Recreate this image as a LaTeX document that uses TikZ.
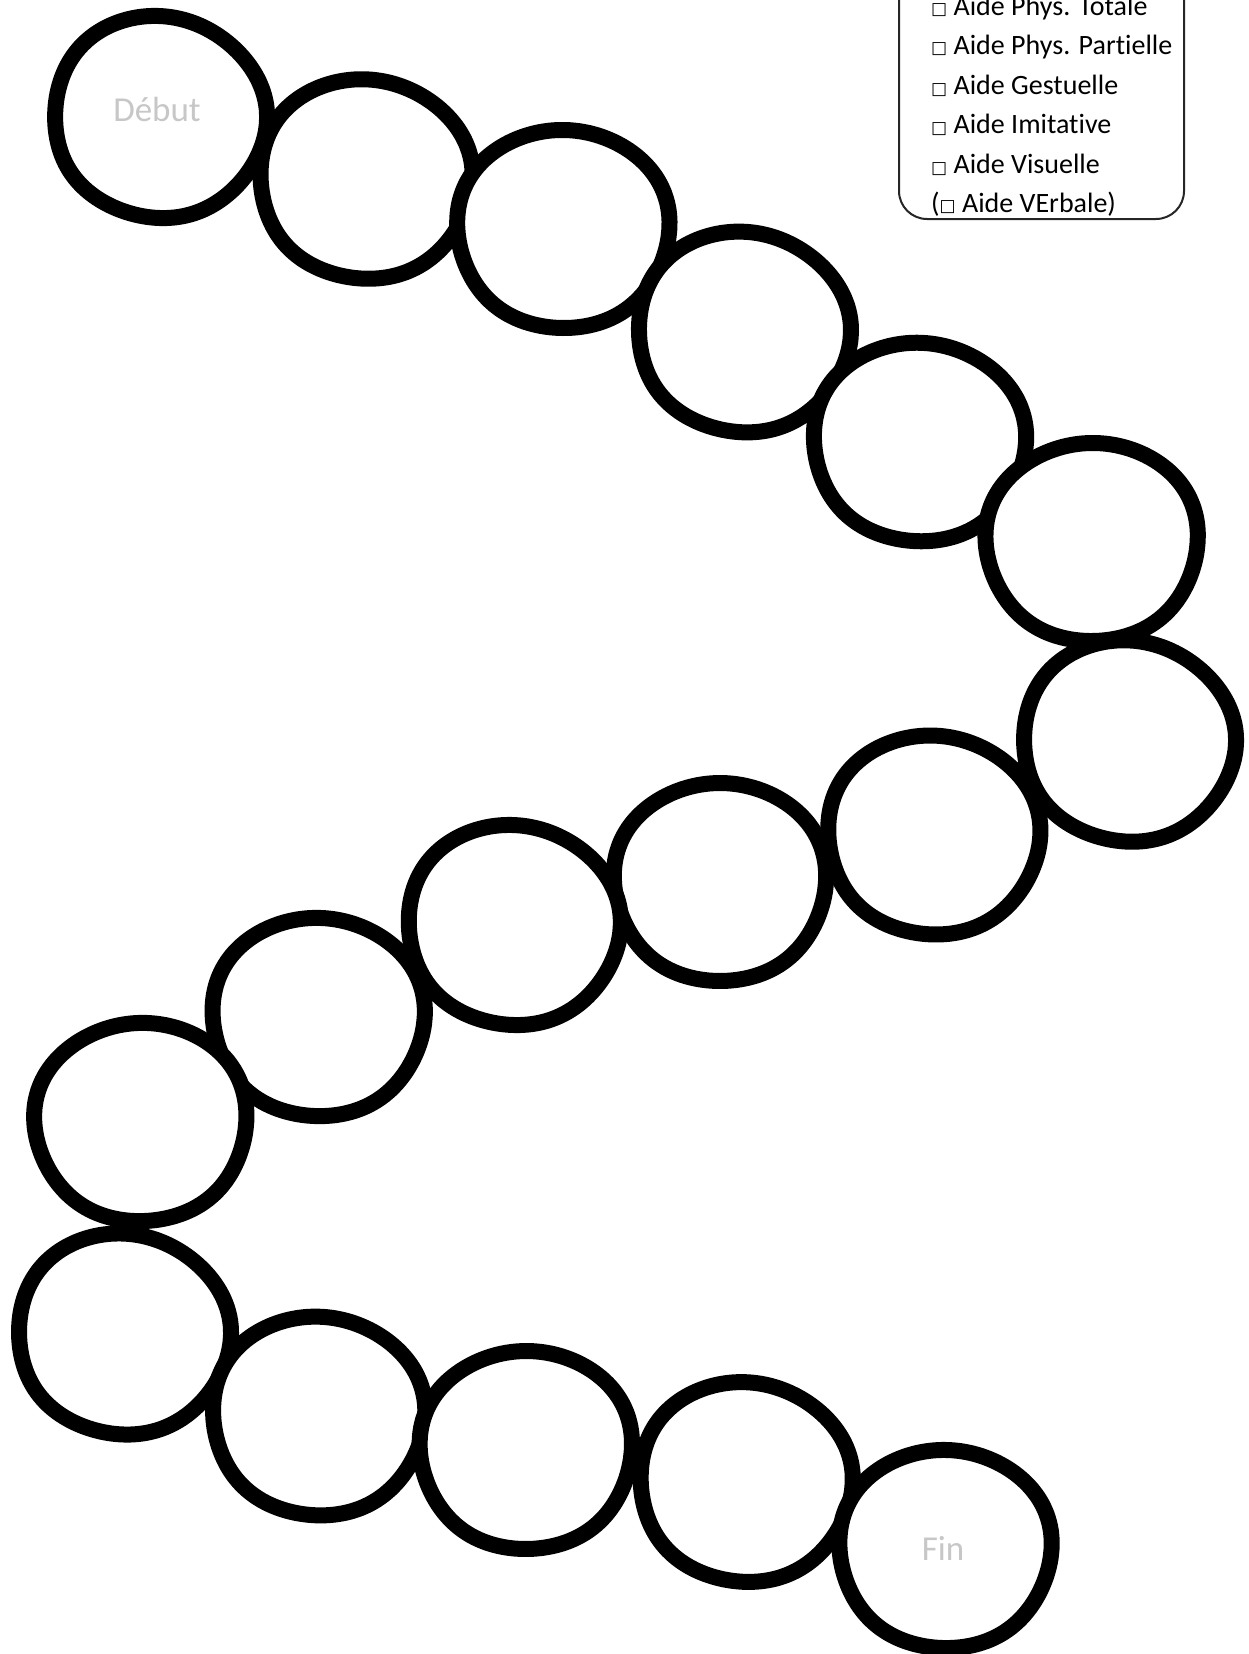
\documentclass[tikz,border=0pt]{standalone}
\usepackage{fontspec}
\setmainfont{Carlito}[Ligatures=NoCommon]
\newfontfamily\symfont{DejaVu Sans}
\tikzset{
  blobline/.style={draw=black, line width=16pt, fill=white, line join=round},
  lbl/.style={text=black!22, font=\fontsize{35}{40}\selectfont, inner sep=0pt},
  legtext/.style={anchor=west, inner sep=0pt, font=\fontsize{28}{33}\selectfont},
  legbox/.style={draw=black!85, line width=2pt, rounded corners=28pt}
}
\newcommand{\cbox}{{\symfont\fontsize{17}{20}\selectfont\raisebox{0.5pt}{□}}}
\begin{document}
\begin{tikzpicture}[x=1pt,y=-1pt]
\useasboundingbox (0,0) rectangle (1248,1654);
\fill[white] (0,0) rectangle (1248,1654);
\foreach \i/\x/\y/\p in {1/159/117/0, 2/365/179/40, 3/563/229/80, 4/743/332/20,
  5/919/442/60, 6/1092/542/100, 7/1128/741/10, 8/933/835/50, 9/720/882/90,
  10/513/925/30, 11/318/1017/70, 12/141/1122/110, 13/123/1334/15,
  14/318/1416/55, 15/526/1450/95, 16/745/1482/35, 17/945/1549/75}{
  \coordinate (c\i) at (\x,\y);
  \begin{scope}[shift={(c\i)}]
    \draw[blobline] plot[variable=\t, domain=0:360, samples=72, smooth cycle]
      ({106*(1+0.02*cos(3*\t+\p))*cos(\t)}, {101*(1+0.02*sin(2*\t+\p))*sin(\t)});
  \end{scope}
}
\node[lbl] (debut) at (157,109) {Début};
\node[lbl] (fin) at (943,1548) {Fin};
\draw[legbox] (899,-60) rectangle (1184,219);
\node[legtext] (l1) at (931,8) {\cbox\ Aide Phys. Totale};
\node[legtext] (l2) at (931,47) {\cbox\ Aide Phys. Partielle};
\node[legtext] (l3) at (931,86) {\cbox\ Aide Gestuelle};
\node[legtext] (l4) at (931,125) {\cbox\ Aide Imitative};
\node[legtext] (l5) at (931,165) {\cbox\ Aide Visuelle};
\node[legtext] (l6) at (931,204) {(\cbox\ Aide VErbale)};
\end{tikzpicture}
\end{document}
